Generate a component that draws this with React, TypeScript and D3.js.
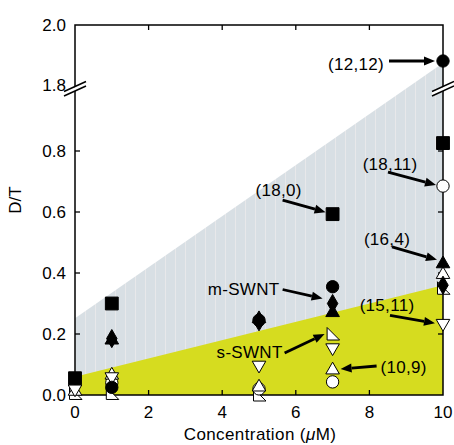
import React from 'react';
import * as d3 from 'd3';

// concentrations (uM) on the x axis
const concentrations = [0, 1, 5, 7, 10];

// D/T values for each chirality, one per concentration (null = not plotted)
const filledCircle = [null, 0.025, 0.245, 0.355, 1.88]; // (12,12)
const filledSquare = [0.055, 0.30, null, 0.593, 0.826]; // (18,0)
const openCircle = [null, 0.04, 0.02, 0.043, 0.685]; // (18,11)
const filledTriangle = [null, 0.18, 0.25, 0.27, 0.43]; // (16,4)
const filledDiamond = [null, 0.185, 0.24, 0.30, 0.36];
const openTriangleDown = [0.02, 0.06, 0.098, 0.155, 0.235]; // (15,11)
const openTriangleUp = [0.012, 0.065, 0.026, 0.082, 0.395]; // (10,9)
const openCorner = [0.005, 0.005, 0.0, 0.20, 0.35];

// shaded bands, value at x = 0 and x = 10
const metallicTop = [0.252, 1.873];
const semiTop = [0.06, 0.36];

const xTicks = [0, 2, 4, 6, 8, 10];
const yTicks = [0, 0.2, 0.4, 0.6, 0.8, 1.8, 2.0];

const W = 454;
const H = 445;
const left = 75;
const right = 443;
const top = 25;
const bottom = 395;

const x = d3.scaleLinear().domain([0, 10]).range([left, right]);
// broken axis: 0..1.0 then 1.8..2.0
const y = d3.scaleLinear().domain([0, 1.0, 1.8, 2.0]).range([bottom, 90, 85, top]);

const font = '"Liberation Sans", Arial, Helvetica, sans-serif';

type Shape = 'circle' | 'square' | 'triangle' | 'diamond' | 'down' | 'corner';

const series: { values: (number | null)[]; shape: Shape; filled: boolean }[] = [
  { values: openCorner, shape: 'corner', filled: false },
  { values: openCircle, shape: 'circle', filled: false },
  { values: openTriangleUp, shape: 'triangle', filled: false },
  { values: openTriangleDown, shape: 'down', filled: false },
  { values: filledSquare, shape: 'square', filled: true },
  { values: filledDiamond, shape: 'diamond', filled: true },
  { values: filledTriangle, shape: 'triangle', filled: true },
  { values: filledCircle, shape: 'circle', filled: true },
];

function shapePath(shape: Shape): string {
  if (shape === 'corner') return 'M-5.5,-6.5L-5.5,6L7,6Z';
  const type =
    shape === 'circle' ? d3.symbolCircle :
    shape === 'square' ? d3.symbolSquare :
    shape === 'diamond' ? d3.symbolDiamond : d3.symbolTriangle;
  const size = shape === 'circle' ? 120 : shape === 'square' ? 165 : shape === 'diamond' ? 95 : 80;
  return d3.symbol().type(type).size(size)() as string;
}

// annotations hang off a marker: series index, concentration index, offsets in px
const annotations = [
  { label: '(12,12)', s: 7, i: 4, tip: [-8, 0], tail: [-54, 0], text: [-87, 9] },
  { label: '(18,0)', s: 4, i: 3, tip: [-7, -2], tail: [-50, -14], text: [-54, -18] },
  { label: '(18,11)', s: 1, i: 4, tip: [-7, -1], tail: [-55, -14], text: [-53, -16] },
  { label: '(16,4)', s: 6, i: 4, tip: [-6, -4], tail: [-51, -17], text: [-56, -19] },
  { label: '(15,11)', s: 3, i: 4, tip: [-8, 0], tail: [-53, -8], text: [-56, -12] },
  { label: '(10,9)', s: 2, i: 3, tip: [8, -1], tail: [44, -4], text: [71, 3] },
  { label: 'm-SWNT', s: 5, i: 3, tip: [-10, -5], tail: [-50, -14], text: [-89, -9] },
  { label: 's-SWNT', s: 0, i: 3, tip: [-8, 0], tail: [-48, 19], text: [-83, 24] },
];

function Arrow({ x1, y1, x2, y2 }: { x1: number; y1: number; x2: number; y2: number }) {
  const a = Math.atan2(y2 - y1, x2 - x1);
  const len = 11;
  const hw = 4.5;
  const bx = x2 - len * Math.cos(a);
  const by = y2 - len * Math.sin(a);
  const px = -Math.sin(a) * hw;
  const py = Math.cos(a) * hw;
  return (
    <g>
      <line x1={x1} y1={y1} x2={bx} y2={by} stroke="#000" strokeWidth={2.8} />
      <path d={`M${x2},${y2}L${bx + px},${by + py}L${bx - px},${by - py}Z`} fill="#000" />
    </g>
  );
}

function Break({ cx, cy }: { cx: number; cy: number }) {
  return (
    <g>
      <path d={`M${cx - 11},${cy + 3}L${cx + 11},${cy - 7}L${cx + 11},${cy - 3}L${cx - 11},${cy + 7}Z`} fill="#fff" />
      <line x1={cx - 11} y1={cy + 2.5} x2={cx + 11} y2={cy - 7.5} stroke="#000" strokeWidth={1.5} />
      <line x1={cx - 11} y1={cy + 7} x2={cx + 11} y2={cy - 3} stroke="#000" strokeWidth={1.5} />
    </g>
  );
}

export default function App() {
  const band = (topVals: number[]) =>
    `M${x(0)},${y(topVals[0])}L${x(10)},${y(topVals[1])}L${x(10)},${y(0)}L${x(0)},${y(0)}Z`;

  const innerTicksX = xTicks.filter((t) => t > 0 && t < 10);
  const innerTicksY = yTicks.filter((t) => t > 0 && t < 1);

  return (
    <svg width={W} height={H} style={{ position: 'absolute', left: 0, top: 0 }} fontFamily={font}>
      <defs>
        <pattern id="stripes" width={10} height={10} patternUnits="userSpaceOnUse" x={left}>
          <rect width={10} height={10} fill="#d8dfe4" />
          <line x1={0.5} y1={0} x2={0.5} y2={10} stroke="#e8e8ea" strokeWidth={1} />
        </pattern>
      </defs>

      <path d={band(metallicTop)} fill="url(#stripes)" />
      <path d={band(semiTop)} fill="#d6dc1f" />

      <rect x={left} y={top} width={right - left} height={bottom - top} fill="none" stroke="#000" strokeWidth={1.5} />

      {innerTicksX.map((t) => (
        <g key={'xt' + t}>
          <line x1={x(t)} x2={x(t)} y1={bottom} y2={bottom - 5} stroke="#000" strokeWidth={1.3} />
          <line x1={x(t)} x2={x(t)} y1={top} y2={top + 5} stroke="#000" strokeWidth={1.3} />
        </g>
      ))}
      {innerTicksY.map((t) => (
        <g key={'yt' + t}>
          <line x1={left} x2={left + 5} y1={y(t)} y2={y(t)} stroke="#000" strokeWidth={1.3} />
          <line x1={right} x2={right - 5} y1={y(t)} y2={y(t)} stroke="#000" strokeWidth={1.3} />
        </g>
      ))}

      <Break cx={left} cy={y(1.0) - 1} />
      <Break cx={right} cy={y(1.0) - 1} />

      {xTicks.map((t) => (
        <text key={'xl' + t} x={x(t)} y={418} textAnchor="middle" fontSize={17}>{t}</text>
      ))}
      {yTicks.map((t) => (
        <text key={'yl' + t} x={66} y={y(t) + 6} textAnchor="end" fontSize={17}>{t.toFixed(1)}</text>
      ))}

      <text x={260} y={440} textAnchor="middle" fontSize={17} letterSpacing={0.4}>
        Concentration (<tspan fontStyle="italic">μ</tspan>M)
      </text>
      <text transform="translate(21,200) rotate(-90)" textAnchor="middle" fontSize={17}>D/T</text>

      {series.map((s, si) =>
        s.values.map((v, i) =>
          v === null ? null : (
            <path
              key={`m${si}-${i}`}
              d={shapePath(s.shape)}
              transform={`translate(${x(concentrations[i])},${y(v)})${s.shape === 'down' ? ' rotate(180)' : ''}`}
              fill={s.filled ? '#000' : '#fff'}
              stroke="#000"
              strokeWidth={1}
            />
          )
        )
      )}

      {annotations.map((a) => {
        const px = x(concentrations[a.i]);
        const py = y(series[a.s].values[a.i] as number);
        return (
          <g key={a.label}>
            <Arrow x1={px + a.tail[0]} y1={py + a.tail[1]} x2={px + a.tip[0]} y2={py + a.tip[1]} />
            <text x={px + a.text[0]} y={py + a.text[1]} textAnchor="middle" fontSize={17} letterSpacing={0.3}>
              {a.label}
            </text>
          </g>
        );
      })}
    </svg>
  );
}
